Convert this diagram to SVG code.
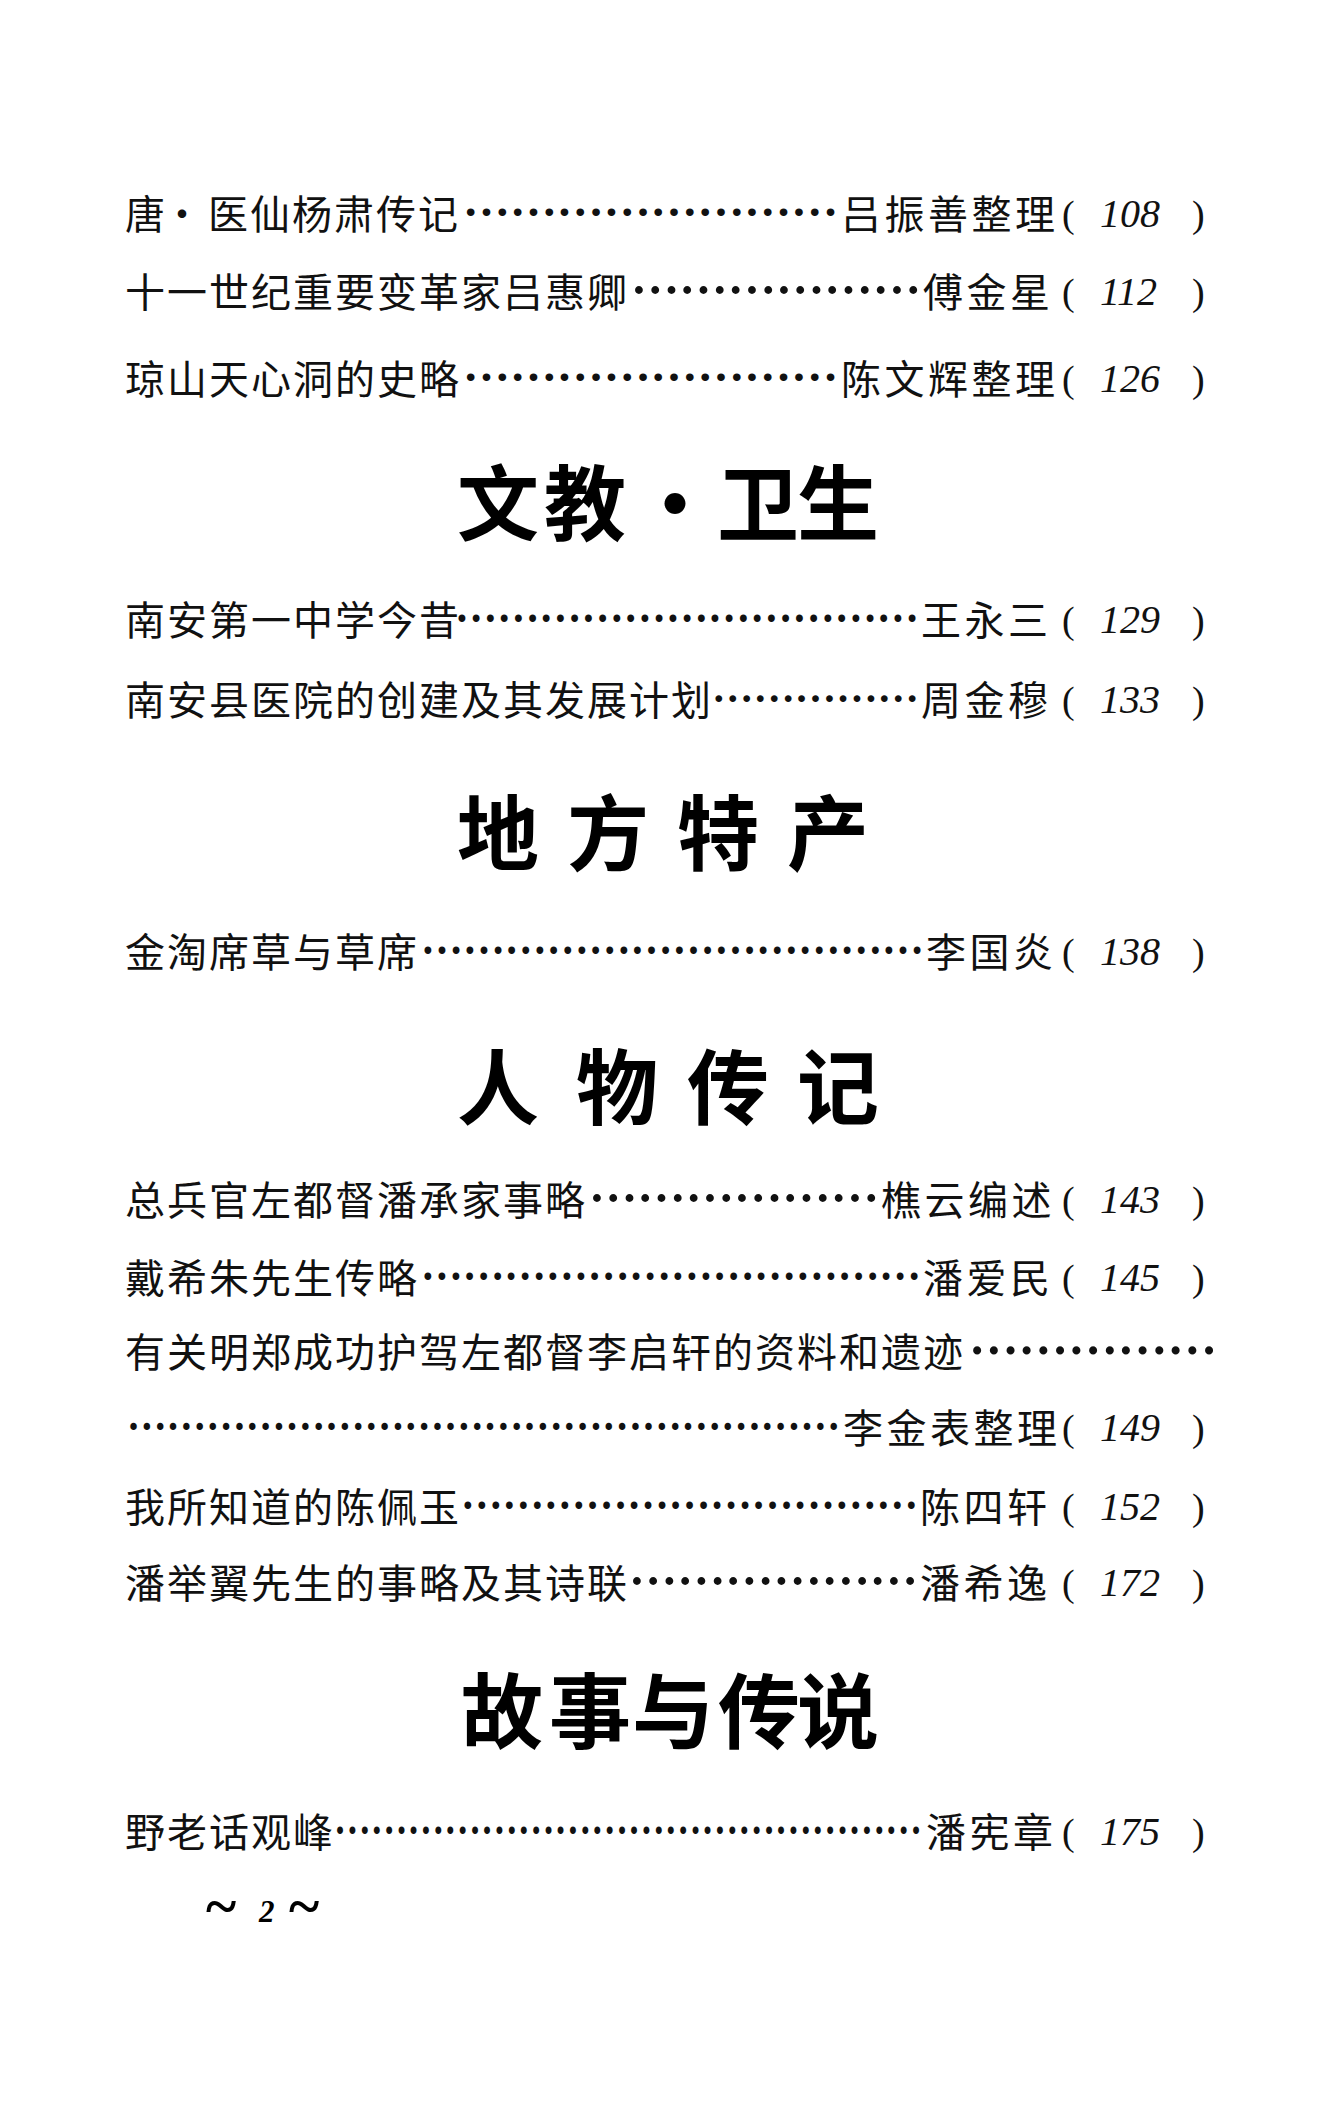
<svg xmlns="http://www.w3.org/2000/svg" width="1336" height="2107" viewBox="0 0 1336 2107">
<style>
.t{font-family:"Noto Sans CJK SC","Noto Sans CJK TC",sans-serif;font-size:40px;letter-spacing:2px;fill:#111}
.a{font-family:"Noto Sans CJK SC","Noto Sans CJK TC",sans-serif;font-size:40px;letter-spacing:3.5px;fill:#111}
.p{font-family:"Liberation Serif",serif;font-size:38px;fill:#111}
.d{font-family:"Liberation Serif",serif;font-weight:bold;fill:#111}
.n{font-family:"Liberation Serif",serif;font-style:italic;font-size:40px;fill:#111}
.h{font-family:"Noto Sans CJK SC","Noto Sans CJK TC",sans-serif;font-size:82px;font-weight:bold;fill:#000}
</style>
<rect width="1336" height="2107" fill="#fff"/>

<g id="entry-108">
<text class="t" y="229"><tspan x="125">唐</tspan><tspan x="183" text-anchor="middle">•</tspan><tspan x="208">医仙杨肃传记</tspan></text>
<text class="d" x="463" y="216" style="font-size:46.9px" textLength="375" lengthAdjust="spacingAndGlyphs">……………………</text>
<text class="a" x="841" y="229">吕振善整理</text>
<text class="p" x="1062" y="227">(</text><text class="n" x="1100" y="227">108</text><text class="p" x="1192" y="227">)</text>
</g>

<g id="entry-112">
<text class="t" x="125" y="307">十一世纪重要变革家吕惠卿</text>
<text class="d" x="631" y="294" style="font-size:48.3px" textLength="290" lengthAdjust="spacingAndGlyphs">………………</text>
<text class="a" x="923" y="307">傅金星</text>
<text class="p" x="1062" y="305">(</text><text class="n" x="1100" y="305">112</text><text class="p" x="1192" y="305">)</text>
</g>

<g id="entry-126">
<text class="t" x="125" y="394">琼山天心洞的史略</text>
<text class="d" x="463" y="381" style="font-size:46.9px" textLength="375" lengthAdjust="spacingAndGlyphs">……………………</text>
<text class="a" x="841" y="394">陈文辉整理</text>
<text class="p" x="1062" y="392">(</text><text class="n" x="1100" y="392">126</text><text class="p" x="1192" y="392">)</text>
</g>

<g id="heading-wenjiao">
<text class="h" y="534"><tspan x="457 544">文教</tspan><tspan x="675" text-anchor="middle">·</tspan><tspan x="717 797">卫生</tspan></text>
</g>

<g id="entry-129">
<text class="t" x="125" y="635">南安第一中学今昔</text>
<text class="d" x="455" y="622" style="font-size:46.4px" textLength="464" lengthAdjust="spacingAndGlyphs">……………………………</text>
<text class="a" x="921" y="635">王永三</text>
<text class="p" x="1062" y="633">(</text><text class="n" x="1100" y="633">129</text><text class="p" x="1192" y="633">)</text>
</g>

<g id="entry-133">
<text class="t" x="125" y="715">南安县医院的创建及其发展计划</text>
<text class="d" x="712" y="702" style="font-size:41.4px" textLength="207" lengthAdjust="spacingAndGlyphs">……………</text>
<text class="a" x="921" y="715">周金穆</text>
<text class="p" x="1062" y="713">(</text><text class="n" x="1100" y="713">133</text><text class="p" x="1192" y="713">)</text>
</g>

<g id="heading-techan">
<text class="h" y="864" x="457 567 677 787">地方特产</text>
</g>

<g id="entry-138">
<text class="t" x="125" y="967">金淘席草与草席</text>
<text class="d" x="421" y="954" style="font-size:45.7px" textLength="503" lengthAdjust="spacingAndGlyphs">………………………………</text>
<text class="a" x="926" y="967">李国炎</text>
<text class="p" x="1062" y="965">(</text><text class="n" x="1100" y="965">138</text><text class="p" x="1192" y="965">)</text>
</g>

<g id="heading-renwu">
<text class="h" y="1118" x="457 576 687 797">人物传记</text>
</g>

<g id="entry-143">
<text class="t" x="125" y="1215">总兵官左都督潘承家事略</text>
<text class="d" x="589" y="1202" style="font-size:48.3px" textLength="290" lengthAdjust="spacingAndGlyphs">………………</text>
<text class="a" x="881" y="1215">樵云编述</text>
<text class="p" x="1062" y="1213">(</text><text class="n" x="1100" y="1213">143</text><text class="p" x="1192" y="1213">)</text>
</g>

<g id="entry-145">
<text class="t" x="125" y="1293">戴希朱先生传略</text>
<text class="d" x="421" y="1280" style="font-size:45.5px" textLength="500" lengthAdjust="spacingAndGlyphs">………………………………</text>
<text class="a" x="923" y="1293">潘爱民</text>
<text class="p" x="1062" y="1291">(</text><text class="n" x="1100" y="1291">145</text><text class="p" x="1192" y="1291">)</text>
</g>

<g id="entry-149">
<text class="t" x="125" y="1367">有关明郑成功护驾左都督李启轩的资料和遗迹</text>
<text class="d" x="969" y="1354" style="font-size:49.6px" textLength="248" lengthAdjust="spacingAndGlyphs">……………</text>
<text class="d" x="127" y="1430" style="font-size:44.6px" textLength="713" lengthAdjust="spacingAndGlyphs">………………………………………………</text>
<text class="a" x="843" y="1443">李金表整理</text>
<text class="p" x="1062" y="1441">(</text><text class="n" x="1100" y="1441">149</text><text class="p" x="1192" y="1441">)</text>
</g>

<g id="entry-152">
<text class="t" x="125" y="1522">我所知道的陈佩玉</text>
<text class="d" x="461" y="1509" style="font-size:45.7px" textLength="457" lengthAdjust="spacingAndGlyphs">……………………………</text>
<text class="a" x="920" y="1522">陈四轩</text>
<text class="p" x="1062" y="1520">(</text><text class="n" x="1100" y="1520">152</text><text class="p" x="1192" y="1520">)</text>
</g>

<g id="entry-172">
<text class="t" x="125" y="1598">潘举翼先生的事略及其诗联</text>
<text class="d" x="629" y="1585" style="font-size:48.2px" textLength="289" lengthAdjust="spacingAndGlyphs">………………</text>
<text class="a" x="920" y="1598">潘希逸</text>
<text class="p" x="1062" y="1596">(</text><text class="n" x="1100" y="1596">172</text><text class="p" x="1192" y="1596">)</text>
</g>

<g id="heading-gushi">
<text class="h" y="1742" x="461 549 632 718 797">故事与传说</text>
</g>

<g id="entry-175">
<text class="t" x="125" y="1847">野老话观峰</text>
<text class="d" x="334" y="1834" style="font-size:45.4px" textLength="588" lengthAdjust="spacingAndGlyphs">…………………………………………</text>
<text class="a" x="926" y="1847">潘宪章</text>
<text class="p" x="1062" y="1845">(</text><text class="n" x="1100" y="1845">175</text><text class="p" x="1192" y="1845">)</text>
</g>

<g id="page-number">
<text y="1922" style="font-family:'Liberation Serif',serif;font-weight:bold;fill:#000"><tspan x="206" y="1925" style="font-size:58px">~</tspan><tspan x="259" y="1922" style="font-size:31px;font-style:italic">2</tspan><tspan x="289" y="1925" style="font-size:58px">~</tspan></text>
</g>
</svg>
